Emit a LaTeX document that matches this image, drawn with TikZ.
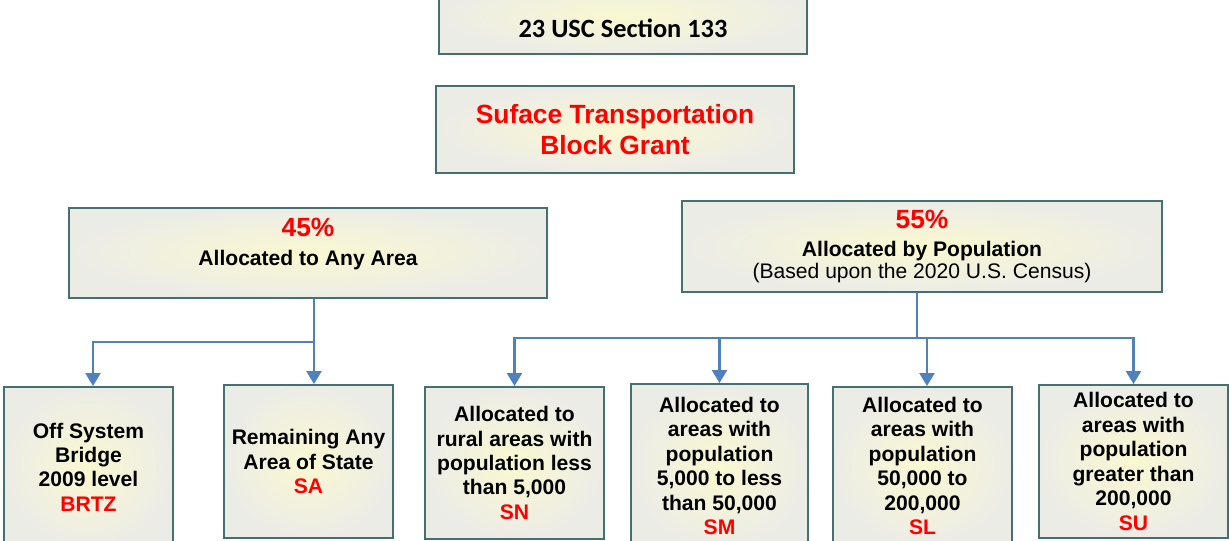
\documentclass[tikz,border=0pt]{standalone}
\usepackage{fontspec}
\setmainfont{Liberation Sans}
\newfontfamily\calibrifont{Carlito}
\usetikzlibrary{arrows.meta,positioning,calc}
\definecolor{boxline}{RGB}{70,112,112}
\definecolor{boxin}{RGB}{250,248,208}
\definecolor{boxout}{RGB}{236,236,231}
\definecolor{arblue}{RGB}{79,129,189}
\tikzset{
  box/.style={draw=boxline,line width=1.1pt,inner color=boxin,outer color=boxout,
              align=center,inner sep=2pt},
  bot/.style={box,font=\bfseries\fontsize{12}{13.9}\selectfont},
  ln/.style ={draw=arblue,line width=1.3pt},
  ar/.style ={ln,-{Triangle[width=3mm,length=2.6mm]}},
}
\newcommand{\rd}[1]{\textcolor{red}{#1}}

\begin{document}
\begin{tikzpicture}
  \useasboundingbox (0,0) rectangle (24.58,-10.82);
  % top boxes
  \node[box,minimum width=7.36cm,minimum height=1.5cm] (usc) at (12.46,-0.33){};
  \node[font=\calibrifont\bfseries\fontsize{15}{18}\selectfont] (usctext) at (12.46,-0.56){23 USC Section 133};
  \node[box,minimum width=7.16cm,minimum height=1.74cm,
        font=\bfseries\fontsize{15}{17.6}\selectfont,text=red] (stbg) at (12.30,-2.59)
        {Suface Transportation\\Block Grant};
  % split
  \node[box,minimum width=9.56cm,minimum height=1.8cm,
        font=\bfseries\fontsize{12}{16.4}\selectfont] (p45) at (6.16,-5.06)
        {{\fontsize{15}{16.4}\selectfont\rd{45\%}}\\Allocated to Any Area\\[-4pt]\mbox{}};
  \node[box,minimum width=9.6cm,minimum height=1.82cm,
        font=\bfseries\fontsize{12}{15.9}\selectfont] (p55) at (18.44,-4.93)
        {{\fontsize{15}{15.9}\selectfont\rd{55\%}}\\Allocated by Population\\[-3pt]
         \mdseries(Based upon the 2020 U.S. Census)};
  % bottom row
  \node[bot,minimum width=3.38cm,minimum height=3.2cm] (brtz) at (1.77,-9.34)
        {Off System\\Bridge\\2009 level\\\rd{BRTZ}};
  \node[bot,minimum width=3.38cm,minimum height=3.06cm] (sa) at (6.17,-9.23)
        {Remaining Any\\Area of State\\\rd{SA}};
  \node[bot,minimum width=3.58cm,minimum height=3.04cm] (sn) at (10.29,-9.26)
        {Allocated to\\rural areas with\\population less\\than 5,000\\\rd{SN}};
  \node[bot,minimum width=3.54cm,minimum height=3.28cm] (sm) at (14.39,-9.32)
        {Allocated to\\areas with\\population\\5,000 to less\\than 50,000\\\rd{SM}};
  \node[bot,minimum width=3.58cm,minimum height=3.16cm] (sl) at (18.45,-9.32)
        {Allocated to\\areas with\\population\\50,000 to\\200,000\\\rd{SL}};
  \node[bot,minimum width=3.78cm,minimum height=3.06cm] (su) at (22.67,-9.23)
        {Allocated to\\areas with\\population\\greater than\\200,000\\\rd{SU}};
  % connectors
  \coordinate (jl) at (6.28,-6.84);
  \coordinate (jr) at (18.34,-6.76);
  \draw[ar] (p45.south -| jl) -- (sa.north -| jl);
  \draw[ar] (jl) -| ([xshift=.9mm]brtz.north);
  \draw[ln] (p55.south -| jr) -- (jr);
  \draw[ar] (jr) -| (sn.north);
  \draw[ar] (jr) -| (sm.north);
  \draw[ar] (jr) -| ([xshift=.9mm]sl.north);
  \draw[ar] (jr) -| (su.north);
\end{tikzpicture}
\end{document}
